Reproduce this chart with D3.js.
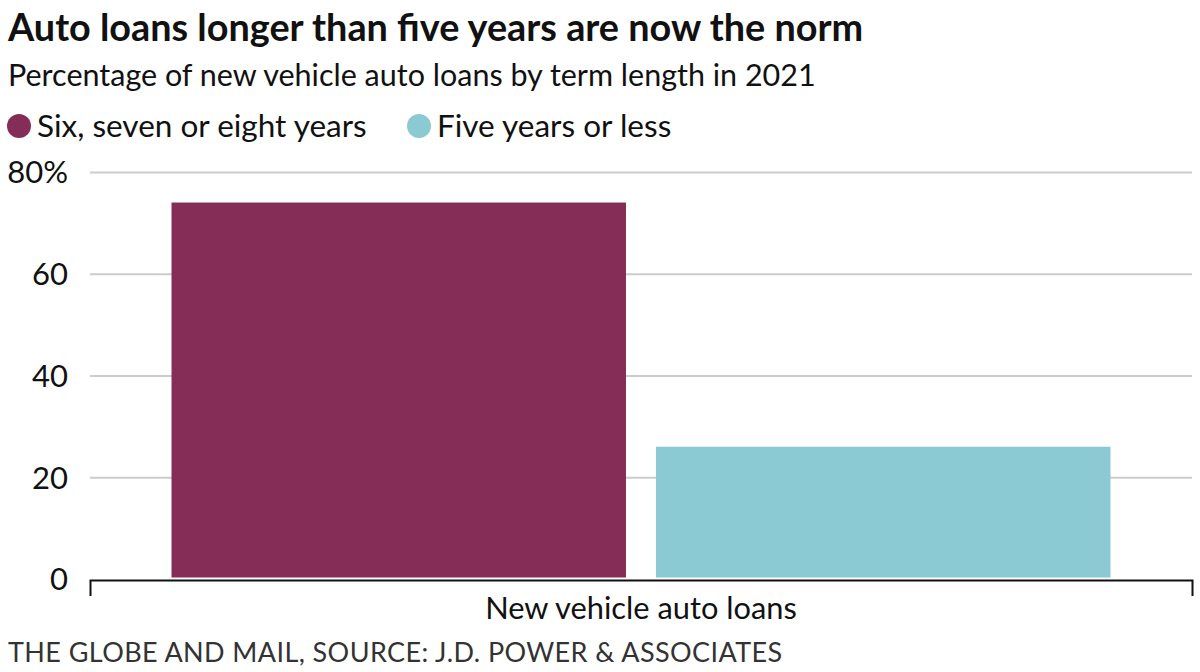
<!DOCTYPE html>
<html><head><meta charset="utf-8">
<script src="https://cdn.jsdelivr.net/npm/d3@7"></script>
<style>body{margin:0;background:#fff;} svg{display:block;}</style>
</head><body><svg id="c" width="1200" height="672"></svg>
<script>
const categories = ["New vehicle auto loans"];
const seriesNames = ["Six, seven or eight years", "Five years or less"];
const seriesValues = [74, 26];
const yTicks = [0, 20, 40, 60, 80];
const colors = ["#852d56", "#8ccad3"];

(function(){
const svg = d3.select("#c");
const font = "Lato, sans-serif";
const mLeft = 90, mRight = 1192, mTop = 172, mBottom = 579;

svg.append("text").attr("x", 8).attr("y", 41).attr("font-family", font).attr("font-weight", 700)
  .attr("font-size", 37.8).attr("fill", "#111").text("Auto loans longer than five years are now the norm");
svg.append("text").attr("x", 8).attr("y", 86).attr("font-family", font)
  .attr("font-size", 30.5).attr("fill", "#111").text("Percentage of new vehicle auto loans by term length in 2021");

// legend
const legX = [19, 419];
seriesNames.forEach((n, i) => {
  svg.append("circle").attr("cx", legX[i]).attr("cy", 126).attr("r", 12).attr("fill", colors[i]);
  svg.append("text").attr("x", legX[i] + 18).attr("y", 137).attr("font-family", font)
    .attr("font-size", 31.5).attr("fill", "#111").text(n);
});

const y = d3.scaleLinear().domain([0, 80]).range([mBottom, mTop]);
const x0 = d3.scaleBand().domain(categories).range([mLeft, mRight]).paddingInner(0).paddingOuter(0.0868);
const x1 = d3.scaleBand().domain(seriesNames).range([0, x0.bandwidth()]).paddingInner(0.062);

// grid
const yAxis = d3.axisLeft(y).tickValues(yTicks).tickSize(0).tickFormat(d => d === 80 ? "80%" : d);
const gy = svg.append("g").attr("transform", `translate(${mLeft},0)`).call(yAxis);
gy.select(".domain").remove();
gy.selectAll("text").attr("x", -22).attr("dy", "0.35em").attr("font-family", font).attr("font-size", 31).attr("fill", "#111");
gy.selectAll(".tick").filter(d => d !== 0).append("line").attr("x1", 0).attr("x2", mRight - mLeft)
  .attr("stroke", "#cccccc").attr("stroke-width", 2);

// bars
const g = svg.append("g");
categories.forEach(c => {
  seriesNames.forEach((s, i) => {
    g.append("rect").attr("x", x0(c) + x1(s)).attr("y", y(seriesValues[i]))
      .attr("width", x1.bandwidth()).attr("height", y(0) - y(seriesValues[i]) - 1.5)
      .attr("fill", colors[i]);
  });
});

// x axis
const xAxis = d3.axisBottom(x0).tickSize(0).tickSizeOuter(16);
const gx = svg.append("g").attr("transform", `translate(0,${mBottom + 1})`).call(xAxis);
gx.select(".domain").attr("stroke", "#111").attr("stroke-width", 2);
gx.selectAll(".tick text").attr("y", 39).attr("dy", 0).attr("font-family", font).attr("font-size", 30.8).attr("fill", "#111");

svg.append("text").attr("x", 8).attr("y", 662).attr("font-family", font)
  .attr("font-size", 27).attr("fill", "#333").attr("letter-spacing", 0.4).text("THE GLOBE AND MAIL, SOURCE: J.D. POWER & ASSOCIATES");
})();
</script></body></html>
